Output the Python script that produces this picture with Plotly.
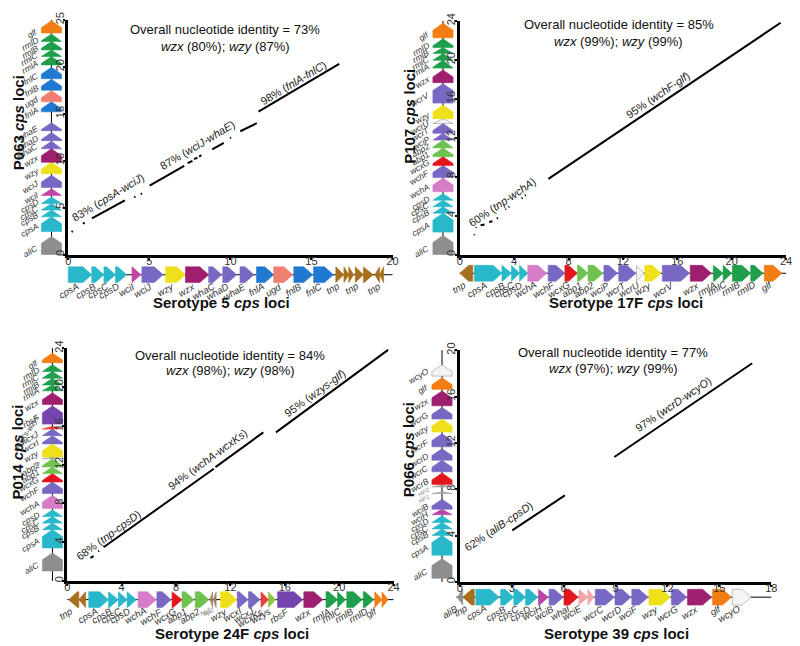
import plotly.graph_objects as go

W, H = 800, 646
FONT = "Liberation Sans, Arial, sans-serif"

# ===================== DATA (positions in kb) =====================
# start -> end gives the arrow direction; names with "_" are drawn without a label

# ---- Panel A: Serotype 5 (x) vs P063 (y) ----
A_x_genes = ["cpsA", "cpsB", "cpsC", "cpsD", "wciI", "wciJ", "wzy", "wzx", "whaC", "whaD", "whaE",
             "fnlA", "ugd", "fnlB", "fnlC", "tnp", "_tnp", "_tnp", "tnp", "_tnp", "_tnp", "tnp"]
A_x_start = [0.0, 1.45, 2.2, 2.91, 3.93, 4.54, 6.0, 7.23, 8.66, 9.53, 10.59,
             11.61, 12.67, 13.91, 15.13, 16.5, 17.0, 17.3, 17.7, 18.2, 19.2, 19.45]
A_x_end = [1.45, 2.2, 2.91, 3.6, 4.48, 5.85, 7.23, 8.66, 9.47, 10.39, 11.45,
           12.67, 13.85, 15.07, 16.35, 17.0, 17.3, 17.6, 18.2, 18.8, 18.9, 19.2]
A_y_genes = ["aliC", "cpsA", "cpsB", "cpsC", "cpsD", "wciI", "wciJ", "wzy", "wzx", "whaC", "whaD",
             "whaE", "fnlA", "ugd", "fnlB", "fnlC", "rmlA", "rmlC", "rmlB", "rmlD", "glf"]
A_y_start = [0.0, 2.45, 4.02, 4.73, 5.43, 6.3, 7.14, 8.6, 9.83, 11.26, 12.13,
             13.19, 15.2, 16.27, 17.51, 18.73, 20.2, 21.1, 21.8, 22.7, 23.6]
A_y_end = [1.93, 4.02, 4.73, 5.43, 6.12, 7.0, 8.45, 9.83, 11.26, 12.07, 12.99,
           14.05, 16.27, 17.45, 18.67, 19.95, 21.1, 21.8, 22.7, 23.5, 24.9]
A_seg = [(0.2, 2.41, 0.28, 2.49), (0.9, 3.28, 1.02, 3.38), (1.46, 3.86, 3.49, 5.78),
         (4.06, 6.08, 4.14, 6.16), (4.47, 6.44, 4.55, 6.52), (5.02, 7.35, 7.15, 9.45),
         (7.36, 9.74, 7.66, 9.98), (7.76, 10.16, 7.97, 10.33), (8.07, 10.43, 8.21, 10.58),
         (8.88, 11.21, 9.59, 11.9), (9.97, 12.4, 10.04, 12.46), (10.61, 13.13, 11.63, 14.0),
         (11.73, 15.23, 16.71, 20.3)]
A_seg_text = ["83% (<i>cpsA-wciJ</i>)", "87% (<i>wciJ-whaE</i>)", "98% (<i>fnlA-fnlC</i>)"]
A_seg_tx = [2.48, 7.97, 13.86]
A_seg_ty = [6.12, 11.63, 18.28]
A_identity = ["Overall nucleotide identity = 73%", "<i>wzx</i> (80%); <i>wzy</i> (87%)"]

# ---- Panel B: Serotype 17F (x) vs P107 (y) ----
B_x_genes = ["tnp", "cpsA", "cpsB", "cpsC", "cpsD", "wchA", "wchF", "wcxG", "abp1", "abp2", "wciP",
             "wcrT", "wcrU", "wzy", "wcrV", "wzx", "rmlA", "rmlC", "rmlB", "rmlD", "glf"]
B_x_start = [0.95, 1.07, 3.1, 3.8, 4.4, 5.0, 6.5, 7.73, 8.65, 9.43, 10.6,
             11.69, 13.0, 13.6, 14.9, 16.95, 18.65, 19.37, 20.05, 21.4, 22.4]
B_x_end = [0.0, 3.1, 3.8, 4.4, 5.0, 6.4, 7.73, 8.65, 9.43, 10.52, 11.6,
           12.95, 13.55, 14.8, 16.9, 18.5, 19.37, 20.0, 21.4, 22.3, 23.7]
B_y_genes = ["aliC", "cpsA", "cpsB", "cpsC", "cpsD", "wchA", "wchF", "wcxG", "abp1", "abp2", "wciP",
             "wcrT", "wcrU", "wzy", "wcrV", "wzx", "rmlA", "rmlC", "rmlB", "rmlD", "glf"]
B_y_start = [0.0, 2.3, 4.25, 4.9, 5.58, 6.45, 7.9, 9.15, 10.05, 10.95, 11.75,
             12.45, 13.45, 13.95, 15.55, 17.65, 19.15, 19.95, 20.65, 21.25, 22.25]
B_y_end = [1.95, 4.25, 4.9, 5.58, 6.25, 7.85, 9.15, 10.05, 10.95, 11.75, 12.45,
           13.45, 13.95, 15.35, 17.55, 18.95, 19.95, 20.65, 21.25, 22.15, 23.75]
B_seg = [(1.05, 2.0, 1.09, 2.07), (1.17, 2.73, 1.21, 2.8), (1.53, 3.0, 1.82, 3.08),
         (2.16, 3.33, 2.4, 3.41), (2.72, 3.68, 2.8, 3.76), (3.35, 4.62, 3.4, 4.69),
         (3.58, 4.86, 3.64, 4.92), (4.55, 5.76, 4.61, 5.83), (4.79, 6.05, 4.85, 6.11),
         (6.52, 7.77, 23.6, 23.8)]
B_seg_text = ["60% (<i>tnp-wchA</i>)", "95% (<i>wchF-glf</i>)"]
B_seg_tx = [3.13, 14.57]
B_seg_ty = [5.4, 16.37]
B_identity = ["Overall nucleotide identity = 85%", "<i>wzx</i> (99%); <i>wzy</i> (99%)"]

# ---- Panel C: Serotype 24F (x) vs P014 (y) ----
C_x_genes = ["tnp", "_tnp", "cpsA", "cpsB", "cpsC", "cpsD", "wchA", "wchF", "wcxG", "abp1", "abp2",
             "hp1", "hp2", "wzy", "wcxI", "wcxJ", "wcxKs", "wzys", "rbsF", "wzx", "rmlA", "rmlC",
             "rmlB", "rmlD", "glf", "_glf"]
C_x_start = [0.85, 1.35, 1.58, 3.03, 3.76, 4.4, 5.21, 6.59, 7.71, 8.44, 9.41,
             10.7, 10.95, 11.27, 12.5, 13.33, 14.25, 14.8, 15.47, 17.4, 19.03, 19.88,
             20.56, 21.77, 22.62, 23.15]
C_x_end = [0.1, 0.85, 3.03, 3.76, 4.4, 5.09, 6.55, 7.64, 8.44, 9.33, 10.42,
           10.5, 10.75, 12.48, 13.3, 14.18, 14.8, 15.32, 17.33, 18.79, 19.88, 20.48,
           21.7, 22.55, 23.15, 23.6]
C_y_genes = ["aliC", "cpsA", "cpsB", "cpsC", "cpsD", "wchA", "wchF", "wcxG", "abp1", "abp2", "hp",
             "wzy", "wcxI", "wcxJ", "wcxKs-wzys", "rbsF", "wzx", "rmlA", "rmlB", "rmlC", "rmlD", "glf"]
C_y_start = [1.02, 3.4, 5.28, 5.96, 6.64, 7.48, 9.02, 10.2, 11.07, 11.75, 12.6,
             12.77, 14.13, 14.98, 15.66, 16.17, 18.2, 19.6, 20.2, 20.9, 21.6, 22.5]
C_y_end = [2.89, 5.28, 5.96, 6.64, 7.32, 8.84, 10.2, 11.07, 11.75, 12.6, 12.75,
           14.13, 14.98, 15.66, 15.95, 18.05, 19.4, 20.2, 20.9, 21.6, 22.3, 23.5]
C_seg = [(1.7, 2.38, 1.94, 2.55), (2.28, 3.03, 2.34, 3.1), (2.67, 3.47, 10.78, 11.57),
         (10.9, 11.74, 14.42, 15.32), (15.35, 15.32, 23.6, 23.83)]
C_seg_text = ["68% (<i>tnp-cpsD</i>)", "94% (<i>wchA-wcxKs</i>)", "95% (<i>wzys-glf</i>)"]
C_seg_tx = [3.03, 10.35, 18.23]
C_seg_ty = [4.77, 12.6, 19.34]
C_identity = ["Overall nucleotide identity = 84%", "<i>wzx</i> (98%); <i>wzy</i> (98%)"]

# ---- Panel D: Serotype 39 (x) vs P066 (y) ----
D_x_genes = ["aliB", "tnp", "cpsA", "cpsB", "cpsC", "cpsD", "wciH", "wciB", "whaI", "wciE", "_wciE",
             "wcrC", "wcrD", "wciF", "wzy", "wcrG", "wzx", "glf", "wcyO"]
D_x_start = [0.17, 0.84, 0.93, 2.36, 3.12, 3.8, 4.55, 5.16, 6.02, 6.88, 7.4,
             7.83, 8.97, 9.94, 10.93, 12.23, 13.16, 14.61, 15.75]
D_x_end = [-0.15, 0.17, 2.27, 3.12, 3.8, 4.51, 5.12, 5.98, 6.84, 7.4, 7.75,
           8.93, 9.89, 10.88, 12.17, 13.12, 14.55, 15.7, 16.84]
D_y_genes = ["aliC", "cpsA", "cpsB", "cpsC", "cpsD", "wciH", "wciB", "HP1", "HP2", "wcrB", "wcrC",
             "wcrD", "wcrF", "wzy", "wcrG", "wzx", "glf", "wcyO"]
D_y_start = [0.31, 2.3, 4.0, 4.57, 5.13, 5.8, 6.27, 7.62, 8.2, 8.4, 9.5,
             10.5, 11.66, 12.93, 14.06, 15.2, 16.62, 17.76]
D_y_end = [2.0, 4.0, 4.57, 5.13, 5.7, 6.27, 7.14, 7.78, 8.35, 9.4, 10.5,
           11.5, 12.79, 14.06, 15.06, 16.48, 17.62, 18.75]
D_seg = [(3.03, 4.45, 6.07, 7.46), (8.93, 10.78, 16.9, 18.87)]
D_seg_text = ["62% (<i>aliB-cpsD</i>)", "97% (<i>wcrD-wcyO</i>)"]
D_seg_tx = [2.27, 12.36]
D_seg_ty = [4.79, 15.34]
D_identity = ["Overall nucleotide identity = 77%", "<i>wzx</i> (97%); <i>wzy</i> (99%)"]

# ===================== STYLE / LAYOUT =====================
CYAN = "#29B8C9"; PURPLE = "#7868C3"; GREEN = "#1F9E4B"; LGREEN = "#6EC24F"; RED = "#E3161E"
GENE_COLORS = {
    "aliC": "#8E8E8E", "aliB": "#8E8E8E", "tnp": "#A86F1E",
    "cpsA": CYAN, "cpsB": CYAN, "cpsC": CYAN, "cpsD": CYAN,
    "wciI": "#C245A6", "wciH": "#B944AB", "wchA": "#D67CC9",
    "wciJ": PURPLE, "whaC": PURPLE, "whaD": PURPLE, "whaE": PURPLE, "wchF": PURPLE, "wciP": PURPLE,
    "wcrT": PURPLE, "wcrV": PURPLE, "wcxI": PURPLE, "wcxJ": PURPLE, "wciB": PURPLE, "wcrC": PURPLE,
    "wcrD": PURPLE, "wciF": PURPLE, "wcrF": PURPLE, "wcrG": PURPLE, "rbsF": "#7545AF",
    "wzy": "#EEE11C", "wzx": "#9D1F6E", "fnlA": "#1F79D0", "fnlB": "#1F79D0", "fnlC": "#1F79D0",
    "ugd": "#F07F72", "rmlA": GREEN, "rmlB": GREEN, "rmlC": GREEN, "rmlD": GREEN, "glf": "#F27D12",
    "wcxG": RED, "wcrB": RED, "whaI": RED, "abp1": LGREEN, "abp2": LGREEN, "wzys": "#8DC63F",
    "wcxKs": "#E6403A", "wcxKs-wzys": "#E6403A", "wcrU": "#F4F4F4", "wcyO": "#F4F4F4",
    "wciE": "#F5A5A5", "hp": "#A0A0A0", "hp1": "#A08060", "hp2": "#A08060", "HP1": "#A0A0A0", "HP2": "#A0A0A0",
}

PANELS = [
    dict(x=(A_x_genes, A_x_start, A_x_end), y=(A_y_genes, A_y_start, A_y_end), seg=A_seg,
         st=(A_seg_text, A_seg_tx, A_seg_ty), ident=A_identity, ang=-31,
         xr=(0, 20), yr=(0, 25), dtx=5, dty=5, box=(66, 394, 12, 250), bt=270.5, lt=49,
         xt="Serotype 5 <i>cps</i> loci", xtpos=(221, 299),
         yt="P063 <i>cps</i> loci", ytpos=(16, 116), idpos=(225, 22, 39)),
    dict(x=(B_x_genes, B_x_start, B_x_end), y=(B_y_genes, B_y_start, B_y_end), seg=B_seg,
         st=(B_seg_text, B_seg_tx, B_seg_ty), ident=B_identity, ang=-34,
         xr=(0, 24), yr=(0, 24), dtx=4, dty=4, box=(462, 792, 13, 250), bt=269, lt=445,
         xt="Serotype 17F <i>cps</i> loci", xtpos=(630, 299),
         yt="P107 <i>cps</i> loci", ytpos=(411, 110), idpos=(623, 17, 34)),
    dict(x=(C_x_genes, C_x_start, C_x_end), y=(C_y_genes, C_y_start, C_y_end), seg=C_seg,
         st=(C_seg_text, C_seg_tx, C_seg_ty), ident=C_identity, ang=-36,
         xr=(0, 24), yr=(0, 24), dtx=4, dty=4, box=(65, 395, 345, 581), bt=600, lt=50,
         xt="Serotype 24F <i>cps</i> loci", xtpos=(232, 634),
         yt="P014 <i>cps</i> loci", ytpos=(15, 450), idpos=(230, 352, 368)),
    dict(x=(D_x_genes, D_x_start, D_x_end), y=(D_y_genes, D_y_start, D_y_end), seg=D_seg,
         st=(D_seg_text, D_seg_tx, D_seg_ty), ident=D_identity, ang=-34,
         xr=(0, 18), yr=(0, 20), dtx=3, dty=4, box=(462, 777, 347, 582), bt=597.5, lt=444,
         xt="Serotype 39 <i>cps</i> loci", xtpos=(620, 634),
         yt="P066 <i>cps</i> loci", ytpos=(410, 448), idpos=(617, 349, 366)),
]


def fx(px):
    return px / W


def fy(py):
    return 1 - py / H


def aname(kind, n):
    return f"{kind}axis" if n == 1 else f"{kind}axis{n}"


def aref(kind, n):
    return kind if n == 1 else f"{kind}{n}"


def arrow_poly(s, e, head, hw):
    """polygon along the gene axis (u) and across (v)"""
    d = 1 if e >= s else -1
    L = abs(e - s)
    hd = min(head, L)
    b = e - d * hd
    if hd >= L:
        return [s, e, s, s], [-hw, 0, hw, -hw]
    return [s, b, e, b, s, s], [-hw, -hw, 0, hw, hw, -hw]


fig = go.Figure()
layout = {}
annotations = []

for i, P in enumerate(PANELS):
    nb = 3 * i + 1      # bottom gene track
    nl = 3 * i + 2      # left gene track
    nm_ = 3 * i + 3     # main dot plot (drawn last so its tick labels sit on top)
    x0, x1, y0, y1 = P["box"]
    xr, yr = P["xr"], P["yr"]
    ppk_x = (x1 - x0) / (xr[1] - xr[0])
    ppk_y = (y1 - y0) / (yr[1] - yr[0])

    axis_common = dict(showline=True, linewidth=3, linecolor="black", ticks="outside",
                       ticklen=2, tickwidth=1.5, tickcolor="black", showgrid=False,
                       zeroline=False, tickfont=dict(family=FONT, size=11, color="#333"))
    layout[aname("x", nm_)] = dict(axis_common, domain=[fx(x0), fx(x1)], range=list(xr),
                                   dtick=P["dtx"], tick0=0, anchor=aref("y", nm_),
                                   ticklabelstandoff=-8)
    layout[aname("y", nm_)] = dict(axis_common, domain=[fy(y1), fy(y0)], range=list(yr),
                                   dtick=P["dty"], tick0=0, tickangle=-90, anchor=aref("x", nm_),
                                   ticklabelstandoff=-5)

    # bottom gene track (same kb scale as the main x axis, padded a little)
    padl = min(14, x0 - 1)
    padr = min(14, W - 1 - x1)
    layout[aname("x", nb)] = dict(domain=[fx(x0 - padl), fx(x1 + padr)],
                                  range=[xr[0] - padl / ppk_x, xr[1] + padr / ppk_x],
                                  visible=False, anchor=aref("y", nb))
    layout[aname("y", nb)] = dict(domain=[fy(P["bt"] + 10), fy(P["bt"] - 10)], range=[-1, 1],
                                  visible=False, anchor=aref("x", nb))
    # left gene track (same kb scale as the main y axis)
    padb = 14
    padt = min(14, y0 - 1)
    layout[aname("x", nl)] = dict(domain=[fx(P["lt"] - 12), fx(P["lt"] + 12)], range=[-1, 1],
                                  visible=False, anchor=aref("y", nl))
    layout[aname("y", nl)] = dict(domain=[fy(y1 + padb), fy(y0 - padt)],
                                  range=[yr[0] - padb / ppk_y, yr[1] + padt / ppk_y],
                                  visible=False, anchor=aref("x", nl))

    # backbones
    fig.add_trace(go.Scatter(x=[xr[0] - 0.2 if i == 3 else xr[0], xr[1]], y=[0, 0], mode="lines",
                             line=dict(color="black", width=1), hoverinfo="skip",
                             xaxis=aref("x", nb), yaxis=aref("y", nb), showlegend=False))
    fig.add_trace(go.Scatter(x=[0, 0], y=[yr[0], yr[1]], mode="lines",
                             line=dict(color="black", width=1), hoverinfo="skip",
                             xaxis=aref("x", nl), yaxis=aref("y", nl), showlegend=False))

    for orient, (names, starts, ends) in (("h", P["x"]), ("v", P["y"])):
        groups = {}
        ax_n = nb if orient == "h" else nl
        for nm, s, e in zip(names, starts, ends):
            key = nm.lstrip("_")
            col = GENE_COLORS[key]
            if orient == "h":
                u, v = arrow_poly(s, e, 9 / ppk_x, 0.8)
                gx, gy = u, v
            else:
                u, v = arrow_poly(s, e, 7 / ppk_y, 0.85)
                gx, gy = v, u
            g = groups.setdefault(col, ([], []))
            g[0].extend(gx + [None])
            g[1].extend(gy + [None])
            if not nm.startswith("_"):
                small = key.lower().startswith("hp")
                if orient == "h":
                    fnt = dict(family=FONT, size=6.5 if small else 9.5,
                               color="#888" if small else "#333")
                    annotations.append(dict(x=(s + e) / 2 + 2 / ppk_x, y=-0.45,
                                            xref=aref("x", ax_n), yref=aref("y", ax_n),
                                            text=f"<i>{key}</i>", showarrow=False, textangle=-30,
                                            xanchor="right", yanchor="top", borderpad=0, font=fnt))
                else:
                    long_lab = len(key) > 6
                    fnt = dict(family=FONT, size=6 if small else (7.5 if long_lab else 8.5),
                               color="#888" if small else "#333")
                    annotations.append(dict(x=-0.85, y=(s + e) / 2 - 6 / ppk_y,
                                            xref=aref("x", ax_n), yref=aref("y", ax_n),
                                            text=f"<i>{key}</i>", showarrow=False,
                                            textangle=-58 if long_lab else -30,
                                            xanchor="right", yanchor="middle", borderpad=0,
                                            font=fnt))
        for col, (gx, gy) in groups.items():
            edge = "#9A9A9A" if col == "#F4F4F4" else col
            fig.add_trace(go.Scatter(x=gx, y=gy, mode="lines", fill="toself", fillcolor=col,
                                     line=dict(color=edge, width=0.6), hoverinfo="skip",
                                     xaxis=aref("x", ax_n), yaxis=aref("y", ax_n),
                                     showlegend=False))

    # dot-plot segments
    sx, sy = [], []
    for (a0, c0, a1, c1) in P["seg"]:
        sx += [a0, a1, None]
        sy += [c0, c1, None]
    fig.add_trace(go.Scatter(x=sx, y=sy, mode="lines", line=dict(color="black", width=2),
                             hoverinfo="skip", xaxis=aref("x", nm_), yaxis=aref("y", nm_),
                             showlegend=False))

    for t, tx, ty in zip(*P["st"]):
        annotations.append(dict(x=tx, y=ty, xref=aref("x", nm_), yref=aref("y", nm_), text=t,
                                showarrow=False, textangle=P["ang"], xanchor="center",
                                yanchor="middle", font=dict(family=FONT, size=11, color="#222")))
    ix, iy1, iy2 = P["idpos"]
    for t, yy in zip(P["ident"], (iy1, iy2)):
        annotations.append(dict(x=fx(ix), y=fy(yy), xref="paper", yref="paper", text=t,
                                xanchor="center", yanchor="middle", showarrow=False,
                                font=dict(family=FONT, size=13, color="#111")))
    annotations.append(dict(x=fx(P["xtpos"][0]), y=fy(P["xtpos"][1]), xref="paper", yref="paper",
                            text=f"<b>{P['xt']}</b>", showarrow=False, xanchor="center",
                            yanchor="middle", font=dict(family=FONT, size=15, color="#111")))
    annotations.append(dict(x=fx(P["ytpos"][0]), y=fy(P["ytpos"][1]), xref="paper", yref="paper",
                            text=f"<b>{P['yt']}</b>", showarrow=False, textangle=-90,
                            xanchor="center", yanchor="middle",
                            font=dict(family=FONT, size=15, color="#111")))

fig.update_layout(width=W, height=H, margin=dict(l=0, r=0, t=0, b=0),
                  paper_bgcolor="white", plot_bgcolor="rgba(0,0,0,0)", showlegend=False,
                  annotations=annotations, **layout)
fig.write_html("out.html", config={"displayModeBar": False},
               post_script="document.body.style.margin='0px';document.body.style.padding='0px';")
